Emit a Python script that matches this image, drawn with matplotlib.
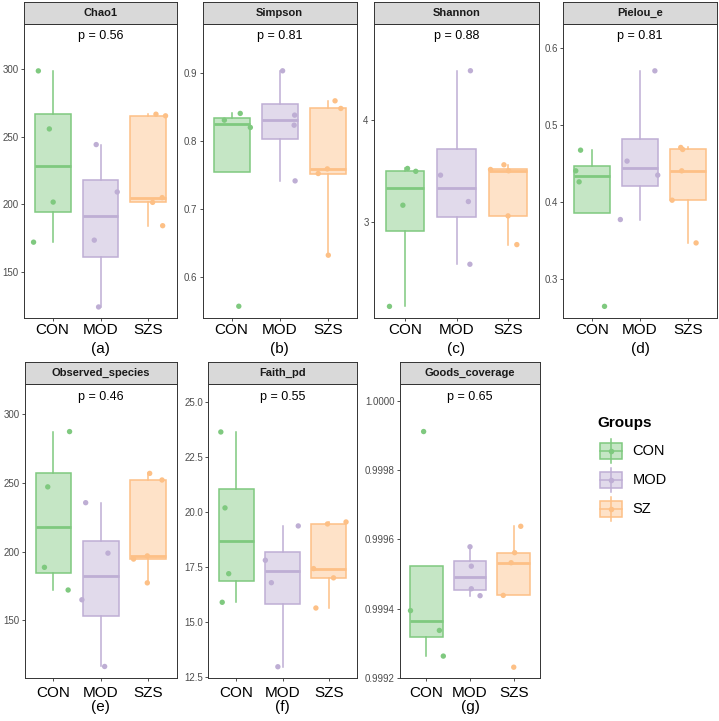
import matplotlib
matplotlib.use("Agg")
import matplotlib.pyplot as plt
from matplotlib.colors import to_rgba
from matplotlib.patches import Rectangle
from matplotlib.ticker import FormatStrFormatter

plt.rcParams['font.family'] = ['Liberation Sans', 'DejaVu Sans']

W, H = 719, 721

groups = ["CON", "MOD", "SZS"]
legend_labels = ["CON", "MOD", "SZ"]
colors = ["#7FC97F", "#BEAED4", "#FDC086"]

metrics = ["Chao1", "Simpson", "Shannon", "Pielou_e",
           "Observed_species", "Faith_pd", "Goods_coverage"]
p_values = [0.56, 0.81, 0.88, 0.81, 0.46, 0.55, 0.65]
tags = ["(a)", "(b)", "(c)", "(d)", "(e)", "(f)", "(g)"]

########################### data ###########################

chao1_con = [298.9, 255.9, 201.7, 172.0]
chao1_mod = [244.3, 209.2, 173.5, 124.0]
chao1_szs = [266.8, 265.6, 205.0, 201.5, 184.2]

simpson_con = [0.8403, 0.8304, 0.8197, 0.557]
simpson_mod = [0.9029, 0.8378, 0.823, 0.7412]
simpson_szs = [0.8588, 0.8476, 0.7588, 0.752, 0.632]

shannon_con = [2.17, 3.164, 3.525, 3.497]
shannon_mod = [4.485, 3.459, 3.2, 2.584]
shannon_szs = [3.515, 3.561, 3.502, 3.059, 2.777]

pielou_con = [0.4671, 0.4403, 0.426, 0.2645]
pielou_mod = [0.570, 0.4529, 0.4347, 0.3771]
pielou_szs = [0.4706, 0.468, 0.4403, 0.4022, 0.3468]

observed_con = [287.2, 247.0, 188.5, 172.0]
observed_mod = [235.5, 198.8, 164.9, 116.4]
observed_szs = [256.8, 252.0, 196.8, 194.5, 177.2]

faith_con = [23.65, 20.2, 17.21, 15.91]
faith_mod = [19.38, 17.82, 16.80, 12.98]
faith_szs = [19.47, 19.56, 17.44, 17.02, 15.65]

goods_con = [0.999911, 0.999395, 0.999338, 0.999264]
goods_mod = [0.999579, 0.999523, 0.999458, 0.999438]
goods_szs = [0.999638, 0.999562, 0.999533, 0.999439, 0.999232]

values = {
    "Chao1": [chao1_con, chao1_mod, chao1_szs],
    "Simpson": [simpson_con, simpson_mod, simpson_szs],
    "Shannon": [shannon_con, shannon_mod, shannon_szs],
    "Pielou_e": [pielou_con, pielou_mod, pielou_szs],
    "Observed_species": [observed_con, observed_mod, observed_szs],
    "Faith_pd": [faith_con, faith_mod, faith_szs],
    "Goods_coverage": [goods_con, goods_mod, goods_szs],
}

# horizontal jitter of each dot (as seen in the figure)
jitter = {
    "Chao1": [[-0.30, -0.07, 0.01, -0.40], [-0.09, 0.35, -0.13, -0.04], [0.16, 0.36, 0.29, 0.09, 0.30]],
    "Simpson": [[0.18, -0.15, 0.39, 0.15], [0.06, 0.31, 0.30, 0.32], [0.15, 0.27, -0.01, -0.20, 0.01]],
    "Shannon": [[-0.30, -0.04, 0.05, 0.21], [0.27, -0.31, 0.23, 0.26], [-0.34, -0.08, 0.01, 0.0, 0.17]],
    "Pielou_e": [[-0.24, -0.34, -0.27, 0.26], [0.31, -0.27, 0.37, -0.41], [-0.15, -0.11, -0.13, -0.33, 0.17]],
    "Observed_species": [[0.34, -0.12, -0.19, 0.31], [-0.32, 0.15, -0.40, 0.08], [0.03, 0.29, -0.02, -0.31, -0.02]],
    "Faith_pd": [[-0.33, -0.24, -0.16, -0.30], [0.34, -0.37, -0.24, -0.10], [-0.03, 0.37, -0.33, 0.10, -0.28]],
    "Goods_coverage": [[-0.06, -0.36, 0.30, 0.39], [0.0, 0.03, 0.03, 0.23], [0.16, 0.02, -0.06, -0.24, 0.0]],
}

########################### layout ####################################

# plot area in pixels: left, top, right, bottom
boxes_px = {
    "Chao1": (24, 23.5, 177, 318.3),
    "Simpson": (202.7, 23.5, 356.7, 318.3),
    "Shannon": (374, 23.5, 539, 318.3),
    "Pielou_e": (563.3, 23.5, 716.7, 318.3),
    "Observed_species": (25, 384, 176.7, 678.3),
    "Faith_pd": (208.3, 384, 356.7, 678.3),
    "Goods_coverage": (400, 384, 540, 678.3),
}
ylims = {
    "Chao1": (115.6, 334), "Simpson": (0.5393, 0.9724), "Shannon": (2.053, 4.949),
    "Pielou_e": (0.249, 0.6314), "Observed_species": (107.8, 321.8),
    "Faith_pd": (12.455, 25.83), "Goods_coverage": (0.9992, 1.000048),
}
yticks = {
    "Chao1": [150, 200, 250, 300], "Simpson": [0.6, 0.7, 0.8, 0.9], "Shannon": [3, 4],
    "Pielou_e": [0.3, 0.4, 0.5, 0.6], "Observed_species": [150, 200, 250, 300],
    "Faith_pd": [12.5, 15.0, 17.5, 20.0, 22.5, 25.0],
    "Goods_coverage": [0.9992, 0.9994, 0.9996, 0.9998, 1.0000],
}
yfmt = {
    "Chao1": "%d", "Simpson": "%.1f", "Shannon": "%d", "Pielou_e": "%.1f",
    "Observed_species": "%d", "Faith_pd": "%.1f", "Goods_coverage": "%.4f",
}


def fig_rect(l, t, r, b):
    return [l / W, 1 - b / H, (r - l) / W, (b - t) / H]


fig = plt.figure(figsize=(W / 100, H / 100), dpi=100)
border = "#333333"

for i, m in enumerate(metrics):
    l, t, r, b = boxes_px[m]
    row2 = t > 300
    ax = fig.add_axes(fig_rect(l, t, r, b))
    vals = values[m]
    pos = [1, 2, 3]
    bp = ax.boxplot(vals, positions=pos, widths=0.75, patch_artist=True,
                    showfliers=False, showcaps=False, whis=1.5)
    for k, c in enumerate(colors):
        bp['boxes'][k].set_facecolor(to_rgba(c, 0.45))
        bp['boxes'][k].set_edgecolor(c)
        bp['boxes'][k].set_linewidth(1.1)
        bp['medians'][k].set_color(c)
        bp['medians'][k].set_linewidth(2.0)
        for w in bp['whiskers'][2 * k:2 * k + 2]:
            w.set_color(c)
            w.set_linewidth(1.1)
    for k, c in enumerate(colors):
        xs = [pos[k] + j for j in jitter[m][k]]
        ax.scatter(xs, vals[k], s=15, color=c, edgecolor='none', zorder=4)

    ax.set_xlim(0.4, 3.6)
    ax.set_ylim(*ylims[m])
    ax.set_yticks(yticks[m])
    ax.yaxis.set_major_formatter(FormatStrFormatter(yfmt[m]))
    ax.set_xticks(pos)
    ax.set_xticklabels(groups)
    ax.tick_params(axis='y', labelsize=7, length=2.4, width=0.6, pad=1.5,
                   colors=border, labelcolor='#4D4D4D')
    ax.tick_params(axis='x', labelsize=11, length=2.4, width=0.6,
                   pad=2.9 if row2 else 1.2, colors=border, labelcolor='black')
    for s in ax.spines.values():
        s.set_color(border)
        s.set_linewidth(0.7)
    ax.text(2, 0.957, "p = %.2f" % p_values[i], transform=ax.get_xaxis_transform(),
            ha='center', va='center', fontsize=9)

    # facet strip
    sh = 22 if row2 else 21.5
    sax = fig.add_axes(fig_rect(l, t - sh, r, t))
    sax.set_facecolor('#D9D9D9')
    sax.set_xticks([])
    sax.set_yticks([])
    for s in sax.spines.values():
        s.set_color(border)
        s.set_linewidth(0.7)
    sax.text(0.5, 0.5, m, ha='center', va='center', fontsize=8,
             fontweight='bold', color='#1A1A1A', transform=sax.transAxes)

    # panel tag
    fig.text((l + r) / 2 / W, 1 - (706.5 if row2 else 348.5) / H, tags[i],
             ha='center', va='center', fontsize=11)

########################### legend ####################################

lax = fig.add_axes([0, 0, 1, 1], zorder=-1)
lax.set_xlim(0, W)
lax.set_ylim(H, 0)
lax.axis('off')
lax.text(597, 423.3, "Groups", ha='left', va='center', fontsize=11, fontweight='bold')
for k, (lab, c) in enumerate(zip(legend_labels, colors)):
    yc = 451 + 29 * k
    lax.plot([611, 611], [yc - 12, yc + 12], color=c, lw=1.1)
    lax.add_patch(Rectangle((600, yc - 7.7), 22, 15.4, facecolor=to_rgba(c, 0.45),
                            edgecolor=c, lw=1.1))
    lax.plot([600, 622], [yc, yc], color=c, lw=1.1)
    lax.plot([611], [yc], 'o', color=c, ms=4, mec='none')
    lax.text(632.7, yc, lab, ha='left', va='center', fontsize=10.5)

plt.savefig("out.png", dpi=100)
